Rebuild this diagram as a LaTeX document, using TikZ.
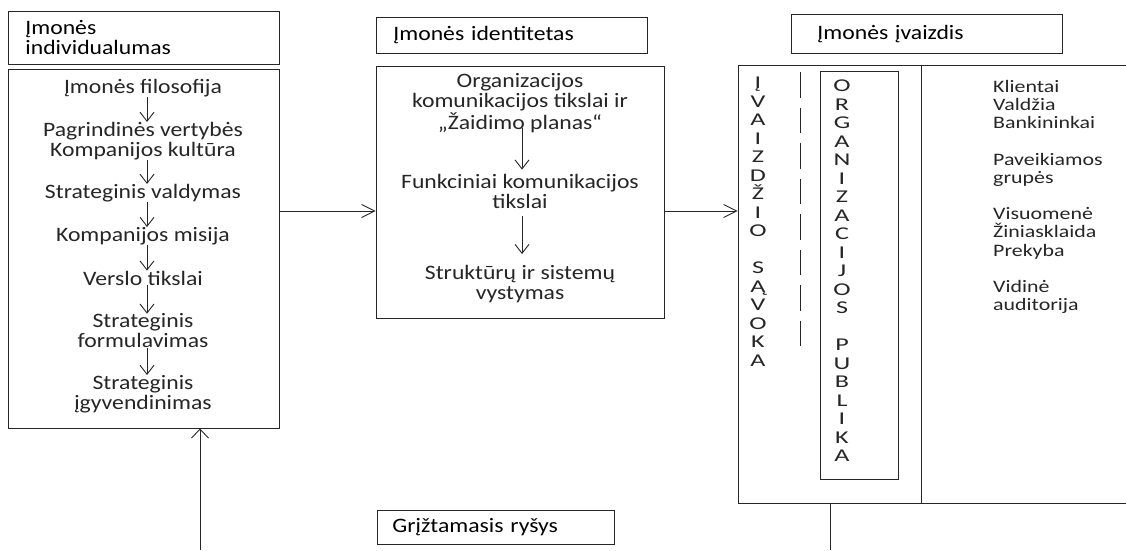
\documentclass[tikz,border=0pt]{standalone}
\usepackage{fontspec}
\setmainfont{Carlito}[FakeStretch=1.155]
\newfontfamily\listfont{Carlito}[FakeStretch=1.25]
\newfontfamily\letterfont{Carlito}[FakeStretch=1.45]
\usetikzlibrary{arrows.meta,calc}

\definecolor{ink}{HTML}{262626}
\newcommand\mainsize{\fontsize{20.5pt}{20pt}\selectfont}
\newcommand\listsize{\listfont\fontsize{17.5pt}{18.2pt}\selectfont}
\newcommand\lettersize{\letterfont\fontsize{18pt}{18.5pt}\selectfont}

\tikzset{
  frame/.style={draw=ink, line width=0.9pt, inner sep=0pt},
  titlebox/.style={frame, anchor=north west, align=left, font=\mainsize},
  txt/.style={inner sep=0pt, align=center, font=\mainsize, text=ink},
  link/.style={draw=ink, line width=0.9pt},
  varr/.style={link, -{Straight Barb[length=9pt,width=14pt]}},
  harr/.style={link, -{Straight Barb[length=13pt,width=13pt]}},
  uarr/.style={link, -{Straight Barb[length=9pt,width=17pt]}},
}

\begin{document}
\begin{tikzpicture}[x=1pt,y=-1pt]
  \fill[white] (0,0) rectangle (1126,550);
  \useasboundingbox (0,0) rectangle (1126,550);

  % --- left column: corporate individuality ---
  \node[titlebox, minimum width=271pt, minimum height=53pt, text width=237pt, inner xsep=17pt]
    (indiv) at (8,11) {Įmonės\\individualumas};
  \node[frame, minimum width=271pt, minimum height=359pt] (phil) at (143.5,248.5) {};

  \node[txt] (f1) at (143,88)  {Įmonės filosofija};
  \node[txt] (f2) at (143,141) {Pagrindinės vertybės\\Kompanijos kultūra};
  \node[txt] (f3) at (143,193) {Strateginis valdymas};
  \node[txt] (f4) at (143,236) {Kompanijos misija};
  \node[txt] (f5) at (143,278) {Verslo tikslai};
  \node[txt] (f6) at (143,331) {Strateginis\\formulavimas};
  \node[txt] (f7) at (143,394) {Strateginis\\įgyvendinimas};

  \draw[varr] ([xshift=4pt]f1.south) -- ([xshift=4pt]f2.north);
  \draw[varr] ([xshift=4pt]f2.south) -- ([xshift=4pt]f3.north);
  \draw[varr] ([xshift=4pt]f3.south) -- ([xshift=4pt]f4.north);
  \draw[varr] ([xshift=4pt]f4.south) -- ([xshift=4pt]f5.north);
  \draw[varr] ([xshift=4pt]f5.south) -- ([xshift=4pt]f6.north);
  \draw[varr] ([xshift=4pt]f6.south) -- ([xshift=4pt]f7.north);

  % --- middle column: corporate identity ---
  \node[titlebox, minimum width=271pt, minimum height=36pt, text width=237pt, inner xsep=17pt]
    (ident) at (376,17) {Įmonės identitetas};
  \node[frame, minimum width=288pt, minimum height=252pt] (comm) at (520,192) {};

  \node[txt] (m1) at (520,103) {Organizacijos\\komunikacijos tikslai ir\\„Žaidimo planas“};
  \node[txt] (m2) at (520,191) {Funkciniai komunikacijos\\tikslai};
  \node[txt] (m3) at (520,284) {Struktūrų ir sistemų\\vystymas};

  \draw[varr] ([xshift=2pt,yshift=5pt]m1.south) -- ([xshift=2pt,yshift=4pt]m2.north);
  \draw[varr] ([xshift=2pt,yshift=-8pt]m2.south) -- ([xshift=2pt,yshift=11pt]m3.north);

  % --- right column: corporate image ---
  \node[titlebox, minimum width=271pt, minimum height=39pt, text width=219pt, inner xsep=26pt]
    (image) at (791,14) {Įmonės įvaizdis};
  \node[frame, minimum width=397pt, minimum height=438pt] (panel) at (936.5,284) {};
  \node[frame, minimum width=78pt, minimum height=408pt] (orgbox) at (859,275) {};

  \node[inner sep=0pt, align=center, font=\lettersize, text=ink] (concept) at (758,221.5)
    {Į\\V\\A\\I\\Z\\D\\Ž\\I\\O\\~\\S\\Ą\\V\\O\\K\\A};
  \node[inner sep=0pt, align=center, font=\lettersize, text=ink] (public) at (842,271)
    {O\\R\\G\\A\\N\\I\\Z\\A\\C\\I\\J\\O\\S\\~\\P\\U\\B\\L\\I\\K\\A};

  \coordinate (dashtop) at (800,72);
  \coordinate (dashbot) at (800,347);
  \draw[link, dash pattern=on 25.5pt off 10pt] (dashtop) -- (dashbot);

  \coordinate (divider) at (921,0);
  \draw[link] (divider |- panel.north) -- (divider |- panel.south);

  \node[inner sep=0pt, align=left, font=\listsize, text=ink, anchor=west] (groups) at (993,197)
    {Klientai\\Valdžia\\Bankininkai\\~\\Paveikiamos\\grupės\\~\\Visuomenė\\Žiniasklaida\\Prekyba\\~\\Vidinė\\auditorija};

  % --- flow between the columns and feedback ---
  \coordinate (level) at (0,211);
  \draw[harr] (phil.east |- level) -- (comm.west |- level);
  \draw[harr] (comm.east |- level) -- (panel.west |- level);

  \node[titlebox, minimum width=237pt, minimum height=34pt, text width=207pt, inner xsep=15pt]
    (feedback) at (377,510) {Grįžtamasis ryšys};

  \coordinate (fbin) at (200,550);
  \coordinate (fbout) at (830,550);
  \draw[uarr] (fbin) -- (fbin |- phil.south);
  \draw[link] (fbout |- panel.south) -- (fbout);
\end{tikzpicture}
\end{document}
